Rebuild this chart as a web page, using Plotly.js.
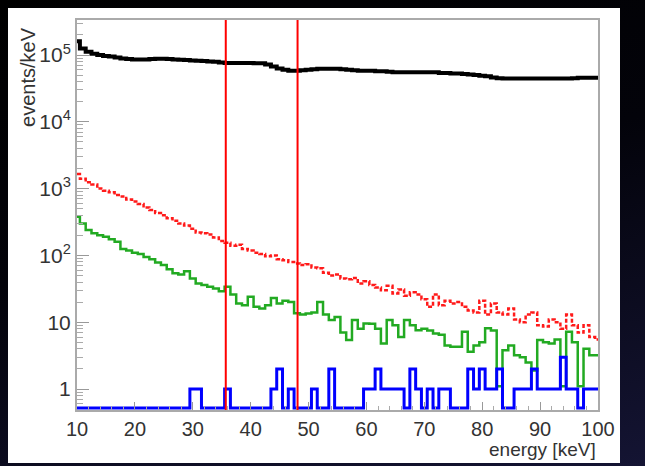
<!DOCTYPE html>
<html><head><meta charset="utf-8">
<script src="https://cdn.plot.ly/plotly-3.0.1.min.js"></script>
<style>
html,body{margin:0;padding:0;width:645px;height:466px;overflow:hidden;
background:linear-gradient(165deg,#000 0%,#03030a 45%,#141433 100%);}
#chart{position:absolute;left:8px;top:8px;width:612px;height:455px;background:#fff;}
</style></head><body><div id="chart"></div><script>
const energy = [10,11,12,13,14,15,16,17,18,19,20,21,22,23,24,25,26,27,28,29,30,31,32,33,34,35,36,37,38,39,40,41,42,43,44,45,46,47,48,49,50,51,52,53,54,55,56,57,58,59,60,61,62,63,64,65,66,67,68,69,70,71,72,73,74,75,76,77,78,79,80,81,82,83,84,85,86,87,88,89,90,91,92,93,94,95,96,97,98,99,100];
const totalRate = [160000,125000,112000,104000,100000,97000,95000,92000,89000,87000,86000,86000,86000,87000,88000,88000,87000,86000,85000,84000,83000,82000,81000,80000,79000,77000,76000,76000,76000,76000,76000,75000,75000,72000,67000,63000,60000,58000,58000,59000,60000,61000,62000,62000,62000,62000,61000,60000,59000,58000,58000,58000,57000,57000,56000,55000,55000,55000,55000,55000,55000,55000,55000,54000,54000,53000,53000,52000,51000,50000,49000,48000,46000,45000,44500,44500,44500,44500,44500,44500,44500,44500,44500,44500,44500,44500,45000,45500,45500,45500,45500];
const redRate = [1650,1400,1250,1150,1000,930,880,800,760,690,640,590,520,480,430,400,360,330,300,280,250,220,215,205,185,165,155,140,145,125,118,110,105,97,100,88,85,80,76,72,74,66,64,55,50,52,45,44,46,38,41,36,33,30,35,27,31,25,28,26,22,17,26,18,21,19,20,17,15,14,21,13,19,14,13,16,11,10,13,14,9,8.6,11,10,8,13,9,7,9,6,5.5];
const greenRate = [380,300,240,215,200,190,175,160,125,118,110,105,95,88,78,72,62,54,52,58,45,38,36,34,32,29,34,26,19,18,24,17,16,18,23,19,21,20,13.6,13,13.5,14,20,13,10.8,12,7,5.4,10.8,8,9.6,9.5,8,4.8,10.8,9,6,10.8,9,7.6,8,7.5,6.8,6.5,4.5,4.3,4.3,7.2,3.6,4.5,5,8.1,7.5,1.1,3.8,4.5,3.2,3.0,2.5,1.9,5.4,5,4.8,5.5,1.1,7.2,5,1.1,4,3.2,3.2];
const blueCounts = [0,0,0,0,0,0,0,0,0,0,0,0,0,0,0,0,0,0,0,0,1,1,0,0,0,0,1,0,0,0,0,0,0,0,1,2,0,1,0,0,0,1,0,0,2,0,0,0,0,0,1,1,2,1,1,1,1,0,2,1,0,1,0,1,1,0,0,0,2,1,2,1,1,2,0,0,1,1,1,2,1,1,1,1,3,1,1,0,1,1,1];
const windowEdges = [35.7, 48.1];
const yTickVals = [1,10,100,1000,10000,100000];
const yTickText = ['1','10','10<sup>2</sup>','10<sup>3</sup>','10<sup>4</sup>','10<sup>5</sup>'];
const yMinorVals = [0.5,0.6,0.7,0.8,0.9,2,3,4,5,6,7,8,9,20,30,40,50,60,70,80,90,200,300,400,500,600,700,800,900,2000,3000,4000,5000,6000,7000,8000,9000,20000,30000,40000,50000,60000,70000,80000,90000,200000,300000];
const xTickVals = [10,20,30,40,50,60,70,80,90,100];

const zeroLevel = 0.52; // empty bins drawn on the frame floor
const blueShown = blueCounts.map(v => v > 0 ? v : zeroLevel);
const FONT = '"Liberation Sans", Arial, Helvetica, sans-serif';
const yRange = [-0.314, 5.524];

const traces = [
  {x: energy, y: totalRate, mode:'lines', line:{shape:'hvh', color:'#000', width:4}},
  {x: energy, y: redRate, mode:'lines', line:{shape:'hvh', color:'#ff1a1a', width:2.5, dash:'4px,2px'}},
  {x: energy, y: greenRate, mode:'lines', line:{shape:'hvh', color:'#22aa22', width:2.5}},
  {x: energy, y: blueShown, mode:'lines', line:{shape:'hvh', color:'#0000ff', width:3}},
  {x:[50], y:[1], yaxis:'y2', mode:'markers', marker:{opacity:0}, hoverinfo:'skip'}
];

const layout = {
  width: 612, height: 455,
  margin: {l:69, r:22, t:12, b:53},
  paper_bgcolor:'#fff', plot_bgcolor:'#fff',
  showlegend:false,
  font:{family:FONT, color:'#333', size:20},
  xaxis:{range:[10,100], tickvals:xTickVals, ticks:'inside', ticklen:8, tickcolor:'#999',
    showline:true, mirror:true, linecolor:'#aaa', linewidth:2, showgrid:false, zeroline:false,
    tickfont:{family:FONT, size:20, color:'#333'},
    minor:{dtick:2, ticks:'inside', ticklen:4, tickcolor:'#aaa', showgrid:false}},
  yaxis:{type:'log', range:yRange, tickvals:yTickVals, ticktext:yTickText,
    ticks:'inside', ticklen:12, tickcolor:'#999',
    showline:true, mirror:true, linecolor:'#aaa', linewidth:2, showgrid:false, zeroline:false,
    tickfont:{family:FONT, size:21, color:'#333'}},
  yaxis2:{type:'log', range:yRange, overlaying:'y', side:'left', tickvals:yMinorVals,
    showticklabels:false, ticks:'inside', ticklen:6, tickcolor:'#aaa',
    showline:false, showgrid:false, zeroline:false},
  shapes: windowEdges.map(e => ({type:'line', xref:'x', yref:'paper', x0:e, x1:e, y0:0, y1:1,
    line:{color:'#ff0000', width:2}})),
  annotations:[
    {text:'energy [keV]', xref:'paper', yref:'paper', x:1, y:-0.1, xanchor:'right', yanchor:'middle',
     showarrow:false, font:{family:FONT, size:19, color:'#333'}},
    {text:'events/keV', xref:'paper', yref:'paper', x:-0.094, y:0.854, xanchor:'center', yanchor:'middle',
     textangle:-90, showarrow:false, font:{family:FONT, size:20, color:'#333'}}
  ]
};
Plotly.newPlot('chart', traces, layout, {staticPlot:true, displayModeBar:false});
</script></body></html>
